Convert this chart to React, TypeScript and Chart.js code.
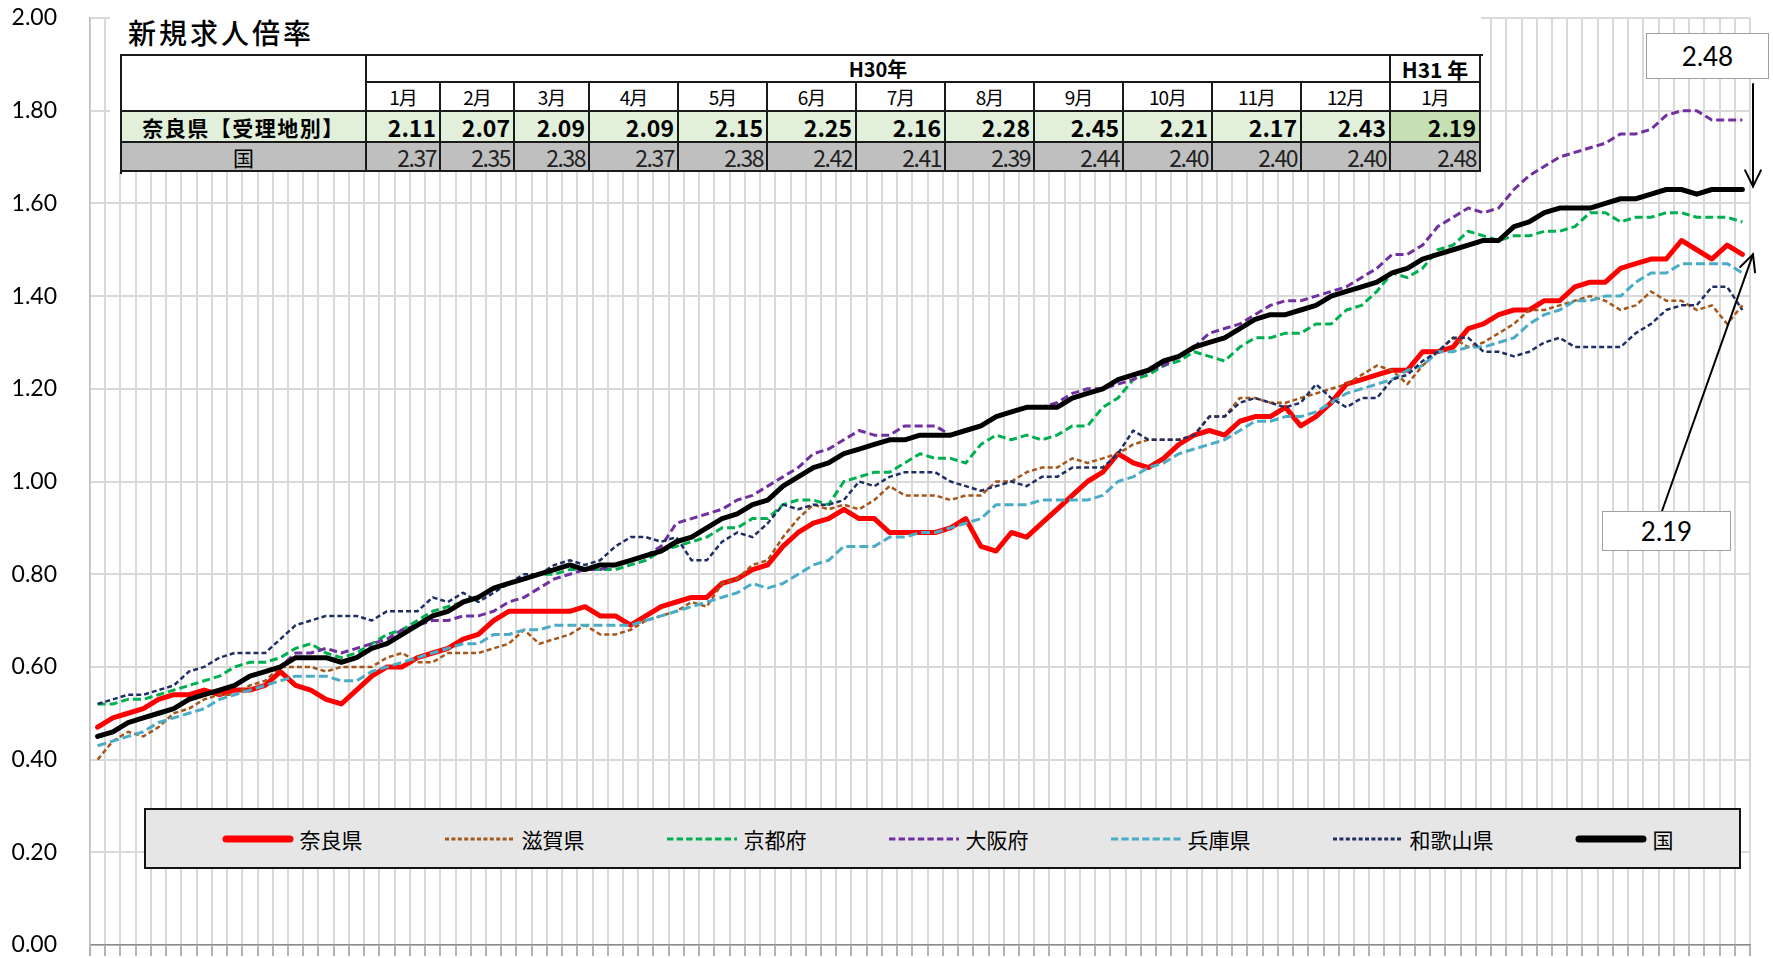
import React, { useEffect, useRef } from 'react';
import { Chart, registerables } from 'chart.js';

Chart.register(...registerables);

// ---- series values (monthly, Jan 2010 .. Jan 2019) ----
const naraValues = [
  0.47, 0.49, 0.50, 0.51, 0.53, 0.54, 0.54, 0.55, 0.54, 0.55, 0.55, 0.56, 0.59, 0.56, 0.55, 0.53, 0.52, 0.55, 0.58,
  0.60, 0.60, 0.62, 0.63, 0.64, 0.66, 0.67, 0.70, 0.72, 0.72, 0.72, 0.72, 0.72, 0.73, 0.71, 0.71, 0.69,
  0.71, 0.73, 0.74, 0.75, 0.75, 0.78, 0.79, 0.81, 0.82, 0.86, 0.89, 0.91, 0.92, 0.94, 0.92, 0.92, 0.89,
  0.89, 0.89, 0.89, 0.90, 0.92, 0.86, 0.85, 0.89, 0.88, 0.91, 0.94, 0.97, 1.00, 1.02, 1.06, 1.04, 1.03,
  1.05, 1.08, 1.10, 1.11, 1.10, 1.13, 1.14, 1.14, 1.16, 1.12, 1.14, 1.17, 1.21, 1.22, 1.23, 1.24, 1.24,
  1.28, 1.28, 1.29, 1.33, 1.34, 1.36, 1.37, 1.37, 1.39, 1.39, 1.42, 1.43, 1.43, 1.46, 1.47, 1.48, 1.48, 1.52, 1.50, 1.48, 1.51, 1.49,
];
const shigaValues = [
  0.40, 0.44, 0.46, 0.45, 0.47, 0.50, 0.51, 0.53, 0.54, 0.54, 0.56, 0.57, 0.60, 0.60, 0.60, 0.59, 0.60, 0.60, 0.60,
  0.62, 0.63, 0.61, 0.61, 0.63, 0.63, 0.63, 0.64, 0.65, 0.68, 0.65, 0.66, 0.67, 0.69, 0.67, 0.67, 0.68,
  0.70, 0.71, 0.72, 0.74, 0.73, 0.78, 0.79, 0.82, 0.83, 0.88, 0.92, 0.95, 0.94, 0.95, 0.94, 0.96, 0.99,
  0.97, 0.97, 0.97, 0.96, 0.97, 0.97, 1.00, 1.00, 1.02, 1.03, 1.03, 1.05, 1.04, 1.05, 1.06, 1.08, 1.09,
  1.09, 1.09, 1.10, 1.14, 1.14, 1.18, 1.18, 1.17, 1.17, 1.18, 1.19, 1.20, 1.21, 1.23, 1.25, 1.24, 1.21,
  1.25, 1.28, 1.31, 1.29, 1.30, 1.32, 1.34, 1.37, 1.37, 1.38, 1.39, 1.40, 1.39, 1.37, 1.38, 1.41, 1.39, 1.39, 1.37, 1.38, 1.34, 1.38,
];
const kyotoValues = [
  0.52, 0.52, 0.53, 0.53, 0.54, 0.55, 0.56, 0.57, 0.58, 0.60, 0.61, 0.61, 0.62, 0.64, 0.65, 0.63, 0.62, 0.63, 0.65,
  0.67, 0.68, 0.70, 0.72, 0.73, 0.74, 0.75, 0.77, 0.78, 0.79, 0.80, 0.80, 0.81, 0.81, 0.81, 0.81, 0.82,
  0.83, 0.85, 0.86, 0.87, 0.88, 0.90, 0.90, 0.92, 0.92, 0.95, 0.96, 0.96, 0.95, 1.00, 1.01, 1.02, 1.02,
  1.04, 1.06, 1.05, 1.05, 1.04, 1.08, 1.10, 1.09, 1.10, 1.09, 1.10, 1.12, 1.12, 1.16, 1.18, 1.22, 1.23,
  1.25, 1.26, 1.28, 1.27, 1.26, 1.29, 1.31, 1.31, 1.32, 1.32, 1.34, 1.34, 1.37, 1.38, 1.41, 1.45, 1.44,
  1.46, 1.50, 1.51, 1.54, 1.53, 1.52, 1.53, 1.53, 1.54, 1.54, 1.55, 1.58, 1.58, 1.56, 1.57, 1.57, 1.58, 1.58, 1.57, 1.57, 1.57, 1.56,
];
const osakaValues = [
  0.45, 0.46, 0.48, 0.49, 0.50, 0.51, 0.53, 0.54, 0.55, 0.56, 0.58, 0.59, 0.60, 0.63, 0.63, 0.64, 0.63, 0.64, 0.65,
  0.66, 0.68, 0.69, 0.70, 0.70, 0.71, 0.71, 0.72, 0.74, 0.75, 0.77, 0.79, 0.80, 0.81, 0.81, 0.82, 0.83,
  0.84, 0.86, 0.91, 0.92, 0.93, 0.94, 0.96, 0.97, 0.99, 1.01, 1.03, 1.06, 1.07, 1.09, 1.11, 1.10, 1.10,
  1.12, 1.12, 1.12, 1.10, 1.11, 1.12, 1.14, 1.15, 1.16, 1.16, 1.17, 1.19, 1.20, 1.20, 1.21, 1.22, 1.24,
  1.25, 1.27, 1.29, 1.32, 1.33, 1.34, 1.36, 1.38, 1.39, 1.39, 1.40, 1.41, 1.42, 1.44, 1.46, 1.49, 1.49,
  1.51, 1.55, 1.57, 1.59, 1.58, 1.59, 1.63, 1.66, 1.68, 1.70, 1.71, 1.72, 1.73, 1.75, 1.75, 1.76, 1.79, 1.80, 1.80, 1.78, 1.78, 1.78,
];
const hyogoValues = [
  0.43, 0.44, 0.45, 0.46, 0.48, 0.49, 0.50, 0.51, 0.53, 0.54, 0.55, 0.56, 0.57, 0.58, 0.58, 0.58, 0.57, 0.57, 0.59,
  0.60, 0.61, 0.62, 0.63, 0.64, 0.65, 0.65, 0.67, 0.67, 0.68, 0.68, 0.69, 0.69, 0.69, 0.69, 0.69, 0.69,
  0.70, 0.71, 0.72, 0.73, 0.74, 0.75, 0.76, 0.78, 0.77, 0.78, 0.80, 0.82, 0.83, 0.86, 0.86, 0.86, 0.88,
  0.88, 0.89, 0.89, 0.90, 0.91, 0.92, 0.95, 0.95, 0.95, 0.96, 0.96, 0.96, 0.96, 0.97, 1.00, 1.01, 1.03,
  1.04, 1.06, 1.07, 1.08, 1.09, 1.11, 1.13, 1.13, 1.14, 1.14, 1.15, 1.17, 1.19, 1.20, 1.21, 1.22, 1.24,
  1.25, 1.28, 1.28, 1.29, 1.29, 1.30, 1.31, 1.34, 1.36, 1.37, 1.39, 1.39, 1.40, 1.40, 1.43, 1.45, 1.45, 1.47, 1.47, 1.47, 1.47, 1.45,
];
const wakayamaValues = [
  0.52, 0.53, 0.54, 0.54, 0.55, 0.56, 0.59, 0.60, 0.62, 0.63, 0.63, 0.63, 0.66, 0.69, 0.70, 0.71, 0.71, 0.71, 0.70,
  0.72, 0.72, 0.72, 0.75, 0.74, 0.76, 0.74, 0.76, 0.78, 0.80, 0.80, 0.82, 0.83, 0.82, 0.83, 0.86, 0.88,
  0.88, 0.87, 0.88, 0.83, 0.83, 0.87, 0.89, 0.88, 0.91, 0.95, 0.94, 0.95, 0.95, 0.96, 1.00, 0.99, 1.01,
  1.02, 1.02, 1.02, 1.00, 0.99, 0.98, 0.99, 1.00, 0.99, 1.01, 1.01, 1.03, 1.03, 1.03, 1.06, 1.11, 1.09,
  1.09, 1.09, 1.10, 1.14, 1.14, 1.17, 1.18, 1.17, 1.16, 1.17, 1.21, 1.18, 1.16, 1.18, 1.18, 1.22, 1.23,
  1.26, 1.28, 1.31, 1.31, 1.28, 1.28, 1.27, 1.28, 1.30, 1.31, 1.29, 1.29, 1.29, 1.29, 1.32, 1.34, 1.37, 1.38, 1.38, 1.42, 1.42, 1.37,
];
const nationalValues = [
  0.45, 0.46, 0.48, 0.49, 0.50, 0.51, 0.53, 0.54, 0.55, 0.56, 0.58, 0.59, 0.60, 0.62, 0.62, 0.62, 0.61, 0.62, 0.64,
  0.65, 0.67, 0.69, 0.71, 0.72, 0.74, 0.75, 0.77, 0.78, 0.79, 0.80, 0.81, 0.82, 0.81, 0.82, 0.82, 0.83,
  0.84, 0.85, 0.87, 0.88, 0.90, 0.92, 0.93, 0.95, 0.96, 0.99, 1.01, 1.03, 1.04, 1.06, 1.07, 1.08, 1.09,
  1.09, 1.10, 1.10, 1.10, 1.11, 1.12, 1.14, 1.15, 1.16, 1.16, 1.16, 1.18, 1.19, 1.20, 1.22, 1.23, 1.24,
  1.26, 1.27, 1.29, 1.30, 1.31, 1.33, 1.35, 1.36, 1.36, 1.37, 1.38, 1.40, 1.41, 1.42, 1.43, 1.45, 1.46,
  1.48, 1.49, 1.50, 1.51, 1.52, 1.52, 1.55, 1.56, 1.58, 1.59, 1.59, 1.59, 1.60, 1.61, 1.61, 1.62, 1.63, 1.63, 1.62, 1.63, 1.63, 1.63,
];

const periodLabels = nationalValues.map((_, k) => `${2010 + Math.floor(k / 12)}/${(k % 12) + 1}`);

const seriesNames = ['奈良県', '滋賀県', '京都府', '大阪府', '兵庫県', '和歌山県', '国'];
const seriesValues = [naraValues, shigaValues, kyotoValues, osakaValues, hyogoValues, wakayamaValues, nationalValues];
const seriesColors = ['#ff0000', '#a5561b', '#00b050', '#7030a0', '#4bacc6', '#1f2f66', '#000000'];
const seriesWidths = [5, 2.5, 3, 3, 3, 2.5, 5];
const seriesDashes: number[][] = [[], [5, 3], [8, 4], [8, 4], [9, 4], [5, 3], []];

// ---- axis ----
const yMin = 0;
const yMax = 2;
const yStep = 0.2;

// ---- table ----
const tableTitle = '新規求人倍率';
const tableYearH30 = 'H30年';
const tableYearH31 = 'H31 年';
const tableMonths = ['1月', '2月', '3月', '4月', '5月', '6月', '7月', '8月', '9月', '10月', '11月', '12月', '1月'];
const tableNaraLabel = '奈良県【受理地別】';
const tableNationalLabel = '国';
const tableNara = [2.11, 2.07, 2.09, 2.09, 2.15, 2.25, 2.16, 2.28, 2.45, 2.21, 2.17, 2.43, 2.19];
const tableNational = [2.37, 2.35, 2.38, 2.37, 2.38, 2.42, 2.41, 2.39, 2.44, 2.40, 2.40, 2.40, 2.48];

// layout constants (page pixels)
const colEdges = [122, 367, 441, 515, 590, 679, 768, 857, 946, 1035, 1124, 1213, 1302, 1391, 1481];
const rowEdges = [56, 83, 112, 143, 172];

const JP = '"Noto Sans CJK JP", "Noto Sans", sans-serif';

function drawArrow(ctx: CanvasRenderingContext2D, x1: number, y1: number, x2: number, y2: number) {
  const ang = Math.atan2(y2 - y1, x2 - x1);
  const len = 18;
  const spread = (26 * Math.PI) / 180;
  ctx.beginPath();
  ctx.moveTo(x1, y1);
  ctx.lineTo(x2, y2);
  ctx.stroke();
  ctx.beginPath();
  ctx.moveTo(x2 - len * Math.cos(ang - spread), y2 - len * Math.sin(ang - spread));
  ctx.lineTo(x2, y2);
  ctx.lineTo(x2 - len * Math.cos(ang + spread), y2 - len * Math.sin(ang + spread));
  ctx.stroke();
}

const arrowPlugin = {
  id: 'calloutArrows',
  afterDraw(chart: any) {
    const { ctx, chartArea, scales } = chart;
    const y = scales.y;
    const n = nationalValues.length;
    const tipX = chartArea.right + 3;
    ctx.save();
    ctx.strokeStyle = '#000';
    ctx.lineWidth = 2;
    ctx.lineCap = 'round';
    ctx.lineJoin = 'miter';
    drawArrow(ctx, tipX, 84, tipX, y.getPixelForValue(nationalValues[n - 1]) - 3);
    drawArrow(ctx, 1662, 511, tipX, y.getPixelForValue(naraValues[n - 1]));
    ctx.restore();
  },
};

function Cell(props: { c0: number; c1: number; r0: number; r1: number; bg?: string; align?: string; style?: any; children?: any }) {
  const { c0, c1, r0, r1, bg, align, style, children } = props;
  const left = colEdges[c0] - colEdges[0];
  const top = rowEdges[r0] - rowEdges[0];
  const width = colEdges[c1] - colEdges[c0];
  const height = rowEdges[r1] - rowEdges[r0];
  return (
    <div
      style={{
        position: 'absolute',
        left,
        top,
        width,
        height,
        boxSizing: 'border-box',
        borderRight: '2px solid #1a1a1a',
        borderBottom: '2px solid #1a1a1a',
        background: bg || '#ffffff',
        display: 'flex',
        alignItems: 'center',
        justifyContent: align === 'right' ? 'flex-end' : 'center',
        paddingRight: align === 'right' ? 3 : 0,
        fontFamily: JP,
        color: '#000',
        whiteSpace: 'nowrap',
        overflow: 'hidden',
        ...style,
      }}
    >
      {children}
    </div>
  );
}

function DataTable() {
  const w = colEdges[colEdges.length - 1] - colEdges[0];
  const h = rowEdges[rowEdges.length - 1] - rowEdges[0];
  const last = tableMonths.length;
  return (
    <div
      style={{
        position: 'absolute',
        left: colEdges[0] - 2,
        top: rowEdges[0] - 2,
        width: w + 2,
        height: h + 2,
        borderTop: '2px solid #1a1a1a',
        borderLeft: '2px solid #1a1a1a',
      }}
    >
      <Cell c0={0} c1={1} r0={0} r1={2} />
      <Cell c0={1} c1={last} r0={0} r1={1} style={{ fontSize: 20, fontWeight: 700 }}>{tableYearH30}</Cell>
      <Cell c0={last} c1={last + 1} r0={0} r1={1} style={{ fontSize: 21, fontWeight: 700 }}>{tableYearH31}</Cell>
      {tableMonths.map((m, i) => (
        <Cell key={'m' + i} c0={i + 1} c1={i + 2} r0={1} r1={2} style={{ fontSize: 19, letterSpacing: -1 }}>{m}</Cell>
      ))}
      <Cell c0={0} c1={1} r0={2} r1={3} bg="#e2efda" style={{ fontSize: 21, fontWeight: 700, letterSpacing: 1.5 }}>{tableNaraLabel}</Cell>
      {tableNara.map((v, i) => (
        <Cell key={'n' + i} c0={i + 1} c1={i + 2} r0={2} r1={3} bg={i === tableNara.length - 1 ? '#c6e0b4' : '#e2efda'} align="right" style={{ fontSize: 23, fontWeight: 700 }}>
          {v.toFixed(2)}
        </Cell>
      ))}
      <Cell c0={0} c1={1} r0={3} r1={4} bg="#bfbfbf" style={{ fontSize: 21 }}>{tableNationalLabel}</Cell>
      {tableNational.map((v, i) => (
        <Cell key={'k' + i} c0={i + 1} c1={i + 2} r0={3} r1={4} bg="#bfbfbf" align="right" style={{ fontSize: 23, letterSpacing: -1.5, color: '#222' }}>
          {v.toFixed(2)}
        </Cell>
      ))}
    </div>
  );
}

function Legend() {
  return (
    <div
      style={{
        position: 'absolute',
        left: 144,
        top: 808,
        width: 1597,
        height: 61,
        boxSizing: 'border-box',
        border: '2px solid #141414',
        background: '#e6e6e6',
        display: 'flex',
        alignItems: 'center',
        justifyContent: 'center',
        gap: 81,
        paddingLeft: 10,
      }}
    >
      {seriesNames.map((name, i) => {
        const solid = seriesDashes[i].length === 0;
        return (
          <div key={name} style={{ display: 'flex', alignItems: 'center' }}>
            <svg width={72} height={12} style={{ marginRight: 6 }}>
              <line
                x1={solid ? 4 : 1}
                y1={6}
                x2={solid ? 68 : 71}
                y2={6}
                stroke={seriesColors[i]}
                strokeWidth={solid ? 7 : 3}
                strokeLinecap={solid ? 'round' : 'butt'}
                strokeDasharray={solid ? undefined : seriesDashes[i].map((d) => d * 0.8).join(' ')}
              />
            </svg>
            <span style={{ fontFamily: JP, fontSize: 21, color: '#000', lineHeight: '24px' }}>{name}</span>
          </div>
        );
      })}
    </div>
  );
}

function Callout(props: { left: number; top: number; width: number; height: number; text: string }) {
  const { left, top, width, height, text } = props;
  return (
    <div
      style={{
        position: 'absolute',
        left,
        top,
        width,
        height,
        boxSizing: 'border-box',
        border: '1.5px solid #a0a0a0',
        background: '#fff',
        display: 'flex',
        alignItems: 'center',
        justifyContent: 'center',
        fontFamily: 'Lato, "Liberation Sans", sans-serif',
        fontSize: 26,
        color: '#000',
      }}
    >
      {text}
    </div>
  );
}

export default function App() {
  const canvasRef = useRef<HTMLCanvasElement | null>(null);

  useEffect(() => {
    const canvas = canvasRef.current;
    if (!canvas) return;
    const chart = new Chart(canvas, {
      type: 'line',
      data: {
        labels: periodLabels,
        datasets: seriesNames.map((name, i) => ({
          label: name,
          data: seriesValues[i],
          borderColor: seriesColors[i],
          backgroundColor: seriesColors[i],
          borderWidth: seriesWidths[i],
          borderDash: seriesDashes[i],
          borderCapStyle: seriesDashes[i].length ? 'butt' : 'round',
          borderJoinStyle: 'round',
          pointRadius: 0,
          tension: 0,
          fill: false,
          order: seriesNames.length - 1 - i,
        })),
      },
      options: {
        animation: false,
        responsive: false,
        events: [],
        layout: { padding: { top: 18, right: 23, bottom: 2, left: 0 } },
        plugins: {
          legend: { display: false },
          tooltip: { enabled: false },
          title: { display: false },
        },
        scales: {
          x: {
            type: 'category',
            offset: true,
            grid: {
              offset: true,
              color: '#d9d9d9',
              lineWidth: 2,
              drawTicks: true,
              tickLength: 11,
              tickColor: '#9a9a9a',
              tickWidth: 1.5,
            },
            border: { display: true, color: '#8c8c8c', width: 1.5 },
            ticks: { display: false, autoSkip: false },
          },
          y: {
            min: yMin,
            max: yMax,
            ticks: {
              stepSize: yStep,
              callback: (v: any) => Number(v).toFixed(2),
              font: { family: 'Lato', size: 23, lineHeight: 1 },
              color: '#000',
              padding: 0,
            },
            grid: {
              color: '#d9d9d9',
              lineWidth: 2,
              drawTicks: true,
              tickLength: 33,
              tickColor: 'rgba(0,0,0,0)',
            },
            border: { display: true, color: '#bfbfbf', width: 1.5 },
            afterFit: (s: any) => {
              s.width = 90;
            },
          },
        },
      },
      plugins: [arrowPlugin],
    } as any);
    return () => chart.destroy();
  }, []);

  return (
    <div style={{ position: 'absolute', left: 0, top: 0, width: 1773, height: 958, background: '#fff', overflow: 'hidden' }}>
      <canvas ref={canvasRef} width={1773} height={958} style={{ position: 'absolute', left: 0, top: 0, width: 1773, height: 958 }} />
      <div style={{ position: 'absolute', left: 110, top: 0, width: 1371, height: 172, background: '#fff' }} />
      <div
        style={{
          position: 'absolute',
          left: 128,
          top: 17,
          fontFamily: JP,
          fontSize: 28,
          fontWeight: 500,
          lineHeight: '30px',
          letterSpacing: 3,
          color: '#000',
        }}
      >
        {tableTitle}
      </div>
      <DataTable />
      <Legend />
      <Callout left={1646} top={33} width={123} height={46} text={tableNational[tableNational.length - 1].toFixed(2)} />
      <Callout left={1602} top={511} width={129} height={40} text={tableNara[tableNara.length - 1].toFixed(2)} />
    </div>
  );
}
